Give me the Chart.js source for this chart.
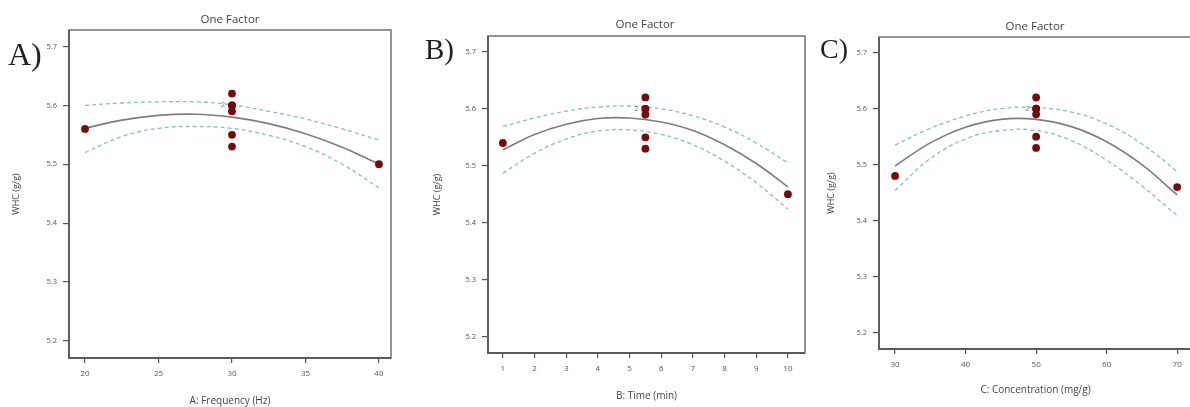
<!DOCTYPE html>
<html>
<head>
<meta charset="utf-8">
<script src="https://cdn.jsdelivr.net/npm/chart.js@4/dist/chart.umd.min.js"></script>
<style>
  html, body { margin: 0; padding: 0; background: #fff; overflow: hidden; }
  #wrap { position: relative; width: 1190px; height: 407px; overflow: hidden; }
  canvas { position: absolute; top: 0; }
  .tag { position: absolute; font-family: "Liberation Serif", "DejaVu Serif", serif; color: #222; line-height: 1; }
</style>
</head>
<body>
<div id="wrap">
  <canvas id="chartA" style="left:0px" width="400" height="407"></canvas>
  <canvas id="chartB" style="left:400px" width="410" height="407"></canvas>
  <canvas id="chartC" style="left:810px" width="390" height="407"></canvas>
  <div class="tag" style="left:8px; top:38px; font-size:32px;">A)</div>
  <div class="tag" style="left:425px; top:35px; font-size:29px;">B)</div>
  <div class="tag" style="left:820px; top:35px; font-size:28px;">C)</div>
</div>
<script>
// y axis (shared)
const yTicks = [5.2, 5.3, 5.4, 5.5, 5.6, 5.7];
const yTitle = 'WHC (g/g)';
const panelTitle = 'One Factor';

// A: Frequency
const aTicks = [20, 25, 30, 35, 40];
const aPointX = [20, 30, 30, 30, 30, 30, 30, 40];
const aPointY = [5.56, 5.62, 5.60, 5.60, 5.59, 5.55, 5.53, 5.50];
const aCurveX = [20, 22.5, 25, 27.5, 30, 32.5, 35, 37.5, 40];
const aFit = [5.561, 5.575, 5.583, 5.585, 5.580, 5.569, 5.552, 5.529, 5.500];
const aUpper = [5.600, 5.604, 5.606, 5.606, 5.601, 5.590, 5.577, 5.560, 5.541];
const aLower = [5.520, 5.547, 5.561, 5.564, 5.561, 5.549, 5.530, 5.500, 5.460];

// B: Time
const bTicks = [1, 2, 3, 4, 5, 6, 7, 8, 9, 10];
const bPointX = [1, 5.5, 5.5, 5.5, 5.5, 5.5, 5.5, 10];
const bPointY = [5.54, 5.62, 5.60, 5.60, 5.59, 5.55, 5.53, 5.45];
const bCurveX = [1, 2, 3, 4, 5, 6, 7, 8, 9, 10];
const bFit = [5.528, 5.555, 5.573, 5.583, 5.584, 5.577, 5.562, 5.537, 5.504, 5.463];
const bUpper = [5.569, 5.584, 5.596, 5.603, 5.605, 5.600, 5.588, 5.568, 5.540, 5.505];
const bLower = [5.487, 5.522, 5.547, 5.561, 5.563, 5.555, 5.537, 5.508, 5.470, 5.424];

// C: Concentration
const cTicks = [30, 40, 50, 60, 70];
const cPointX = [30, 50, 50, 50, 50, 50, 50, 70];
const cPointY = [5.48, 5.62, 5.60, 5.60, 5.59, 5.55, 5.53, 5.46];
const cCurveX = [30, 35, 40, 45, 50, 55, 60, 65, 70];
const cFit = [5.498, 5.539, 5.567, 5.581, 5.581, 5.568, 5.541, 5.500, 5.446];
const cUpper = [5.535, 5.565, 5.587, 5.600, 5.602, 5.594, 5.573, 5.537, 5.488];
const cLower = [5.454, 5.511, 5.546, 5.561, 5.561, 5.543, 5.508, 5.462, 5.409];

const FONT = '"Open Sans", "Noto Sans", sans-serif';
const pts = (xs, ys) => xs.map((x, i) => ({ x, y: ys[i] }));

// box around plot + "One Factor" + replicate count
const boxPlugin = {
  id: 'box',
  afterDraw(chart, args, opts) {
    const { ctx, chartArea: a } = chart;
    ctx.save();
    ctx.strokeStyle = '#7a7a7a';
    ctx.lineWidth = 1.6;
    ctx.strokeRect(a.left, a.top, a.right - a.left, a.bottom - a.top);
    ctx.strokeStyle = '#5a5a5a';
    ctx.lineWidth = 1.8;
    ctx.beginPath();
    ctx.moveTo(a.left, a.top);
    ctx.lineTo(a.left, a.bottom);
    ctx.lineTo(a.right, a.bottom);
    ctx.stroke();
    ctx.fillStyle = '#444';
    ctx.font = '11.5px ' + FONT;
    ctx.textAlign = 'center';
    ctx.textBaseline = 'middle';
    ctx.fillText(panelTitle, opts.titleX, opts.titleY);
    const px = chart.scales.x.getPixelForValue(opts.repX);
    const py = chart.scales.y.getPixelForValue(opts.repY);
    ctx.font = '7px ' + FONT;
    ctx.fillStyle = '#777';
    ctx.fillText('2', px - 9, py);
    ctx.restore();
  }
};

function makePanel(id, p) {
  new Chart(document.getElementById(id), {
    type: 'scatter',
    data: {
      datasets: [
        { data: pts(p.px, p.py), backgroundColor: '#760b0b', borderWidth: 0, pointRadius: 3.9, showLine: false, order: 0 },
        { data: pts(p.cx, p.fit), showLine: true, borderColor: '#7d7d7d', borderWidth: 1.6, pointRadius: 0, tension: 0.4, order: 1 },
        { data: pts(p.cx, p.up), showLine: true, borderColor: '#84c0c0', borderWidth: 1.3, borderDash: [4, 3], pointRadius: 0, tension: 0.4, order: 2 },
        { data: pts(p.cx, p.lo), showLine: true, borderColor: '#84c0c0', borderWidth: 1.3, borderDash: [4, 3], pointRadius: 0, tension: 0.4, order: 2 }
      ]
    },
    options: {
      responsive: false,
      animation: false,
      layout: { padding: p.pad },
      plugins: {
        legend: { display: false },
        tooltip: { enabled: false },
        box: { titleX: p.titleX, titleY: p.titleY, repX: p.repX, repY: 5.60 }
      },
      scales: {
        x: {
          type: 'linear', min: p.xmin, max: p.xmax,
          afterBuildTicks: s => { s.ticks = p.ticks.map(v => ({ value: v })); },
          afterFit: s => { s.height = p.xh; },
          grid: { drawOnChartArea: false, tickLength: 5, color: '#555', lineWidth: 1.2 },
          border: { display: false },
          ticks: { color: '#555', font: { size: 8, family: FONT }, padding: 6 },
          title: { display: true, text: p.xTitle, color: '#444', font: { size: 10, family: FONT }, padding: 0 }
        },
        y: {
          type: 'linear', min: 5.171, max: 5.728,
          afterBuildTicks: s => { s.ticks = yTicks.map(v => ({ value: v })); },
          afterFit: s => { s.width = p.yw; },
          grid: { drawOnChartArea: false, tickLength: 6, color: '#555', lineWidth: 1.2 },
          border: { display: false },
          ticks: { color: '#555', font: { size: 7.5, family: FONT }, padding: 6, callback: v => v.toFixed(1) },
          title: { display: true, text: yTitle, color: '#444', font: { size: 9, family: FONT }, padding: { top: p.ytp, bottom: 0 } }
        }
      }
    },
    plugins: [boxPlugin]
  });
}

makePanel('chartA', {
  px: aPointX, py: aPointY, cx: aCurveX, fit: aFit, up: aUpper, lo: aLower, ticks: aTicks,
  xmin: 18.91, xmax: 40.82, xTitle: 'A: Frequency (Hz)', repX: 30,
  pad: { left: 0, right: 9, top: 30, bottom: 0 }, yw: 69, xh: 49, ytp: 11.5,
  titleX: 230, titleY: 20
});
makePanel('chartB', {
  px: bPointX, py: bPointY, cx: bCurveX, fit: bFit, up: bUpper, lo: bLower, ticks: bTicks,
  xmin: 0.53, xmax: 10.54, xTitle: 'B: Time (min)', repX: 5.5,
  pad: { left: 0, right: 5, top: 36, bottom: 5 }, yw: 88, xh: 49, ytp: 32.5,
  titleX: 245, titleY: 25
});
makePanel('chartC', {
  px: cPointX, py: cPointY, cx: cCurveX, fit: cFit, up: cUpper, lo: cLower, ticks: cTicks,
  xmin: 27.72, xmax: 72.1, xTitle: 'C: Concentration (mg/g)', repX: 50,
  pad: { left: 0, right: 8, top: 37, bottom: 11 }, yw: 69, xh: 47, ytp: 16.5,
  titleX: 225, titleY: 27
});
</script>
</body>
</html>
